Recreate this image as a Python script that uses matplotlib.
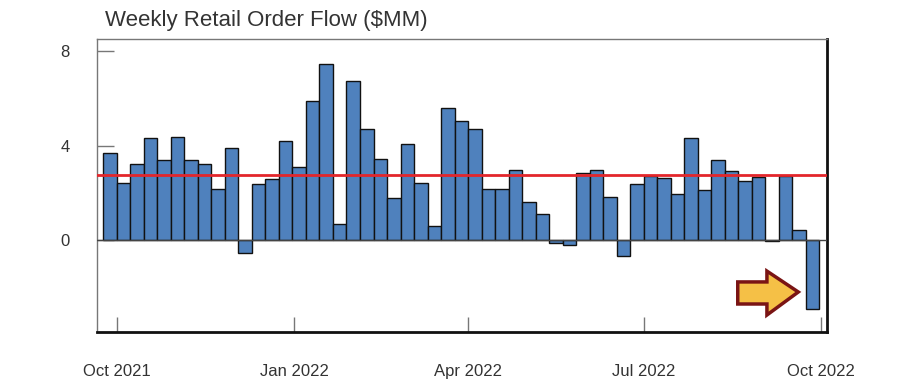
import matplotlib
matplotlib.use("Agg")
import matplotlib.pyplot as plt
import matplotlib.dates as mdates
from matplotlib.patches import Polygon
import pandas as pd

plt.rcParams['font.family'] = ['Liberation Sans', 'DejaVu Sans']

# Data
week_ending = pd.date_range("2021-10-01", periods=53, freq="7D")
order_flow = [3.70, 2.43, 3.22, 4.32, 3.40, 4.38, 3.40, 3.22, 2.18, 3.90,
              -0.55, 2.37, 2.60, 4.19, 3.11, 5.90, 7.47, 0.66, 6.74, 4.69,
              3.42, 1.77, 4.08, 2.43, 0.61, 5.59, 5.06, 4.69, 2.18, 2.18,
              2.98, 1.60, 1.12, -0.14, -0.21, 2.85, 2.98, 1.84, -0.68, 2.37,
              2.73, 2.61, 1.95, 4.32, 2.12, 3.40, 2.91, 2.50, 2.68, -0.04,
              2.73, 0.42, -2.91]
average_level = 2.77
tick_dates = pd.to_datetime(["2021-10-01", "2022-01-01", "2022-04-01",
                             "2022-07-01", "2022-10-01"])
tick_labels = ["Oct 2021", "Jan 2022", "Apr 2022", "Jul 2022", "Oct 2022"]
y_ticks = [0, 4, 8]

fig = plt.figure(figsize=(9, 3.86), dpi=100)
ax = fig.add_axes([0.1081, 0.1407, 0.8105, 0.7583])

ax.bar(week_ending, order_flow, width=-7, align='edge',
       color='#4f81bd', edgecolor='#111111', linewidth=1.0, zorder=2)
ax.axhline(0, color='#444444', lw=1.0, zorder=3)
ax.axhline(average_level, color='#e3262b', lw=2.0, zorder=4)

ax.set_xlim(pd.Timestamp("2021-09-20 20:00"), pd.Timestamp("2022-10-03 22:00"))
ax.set_ylim(-3.89, 8.52)

ax.set_xticks(tick_dates)
ax.set_xticklabels(tick_labels)
ax.set_yticks(y_ticks)
ax.set_yticklabels([str(v) for v in y_ticks])

ax.tick_params(axis='x', direction='in', length=11, width=1, color='#777777',
               pad=23, labelsize=12, labelcolor='#333333')
ax.tick_params(axis='y', direction='in', length=12, width=1, color='#777777',
               pad=20, labelsize=12, labelcolor='#333333')

for side in ['left', 'top']:
    ax.spines[side].set_color('#777777')
    ax.spines[side].set_linewidth(1.0)
for side in ['right', 'bottom']:
    ax.spines[side].set_color('#111111')
    ax.spines[side].set_linewidth(2.0)

fig.text(0.1167, 0.9326, "Weekly Retail Order Flow ($MM)", fontsize=16,
         color='#333333', ha='left', va='baseline')

# Arrow annotation (axes fraction)
arrow_pts = [(0.878, 0.170), (0.918, 0.170), (0.918, 0.207), (0.961, 0.1356),
             (0.918, 0.057), (0.918, 0.0946), (0.878, 0.0946)]
ax.add_patch(Polygon(arrow_pts, closed=True, transform=ax.transAxes,
                     facecolor='#f5c046', edgecolor='#7a1414', linewidth=2.5,
                     joinstyle='miter', zorder=5))

fig.savefig("out.png", dpi=100)
